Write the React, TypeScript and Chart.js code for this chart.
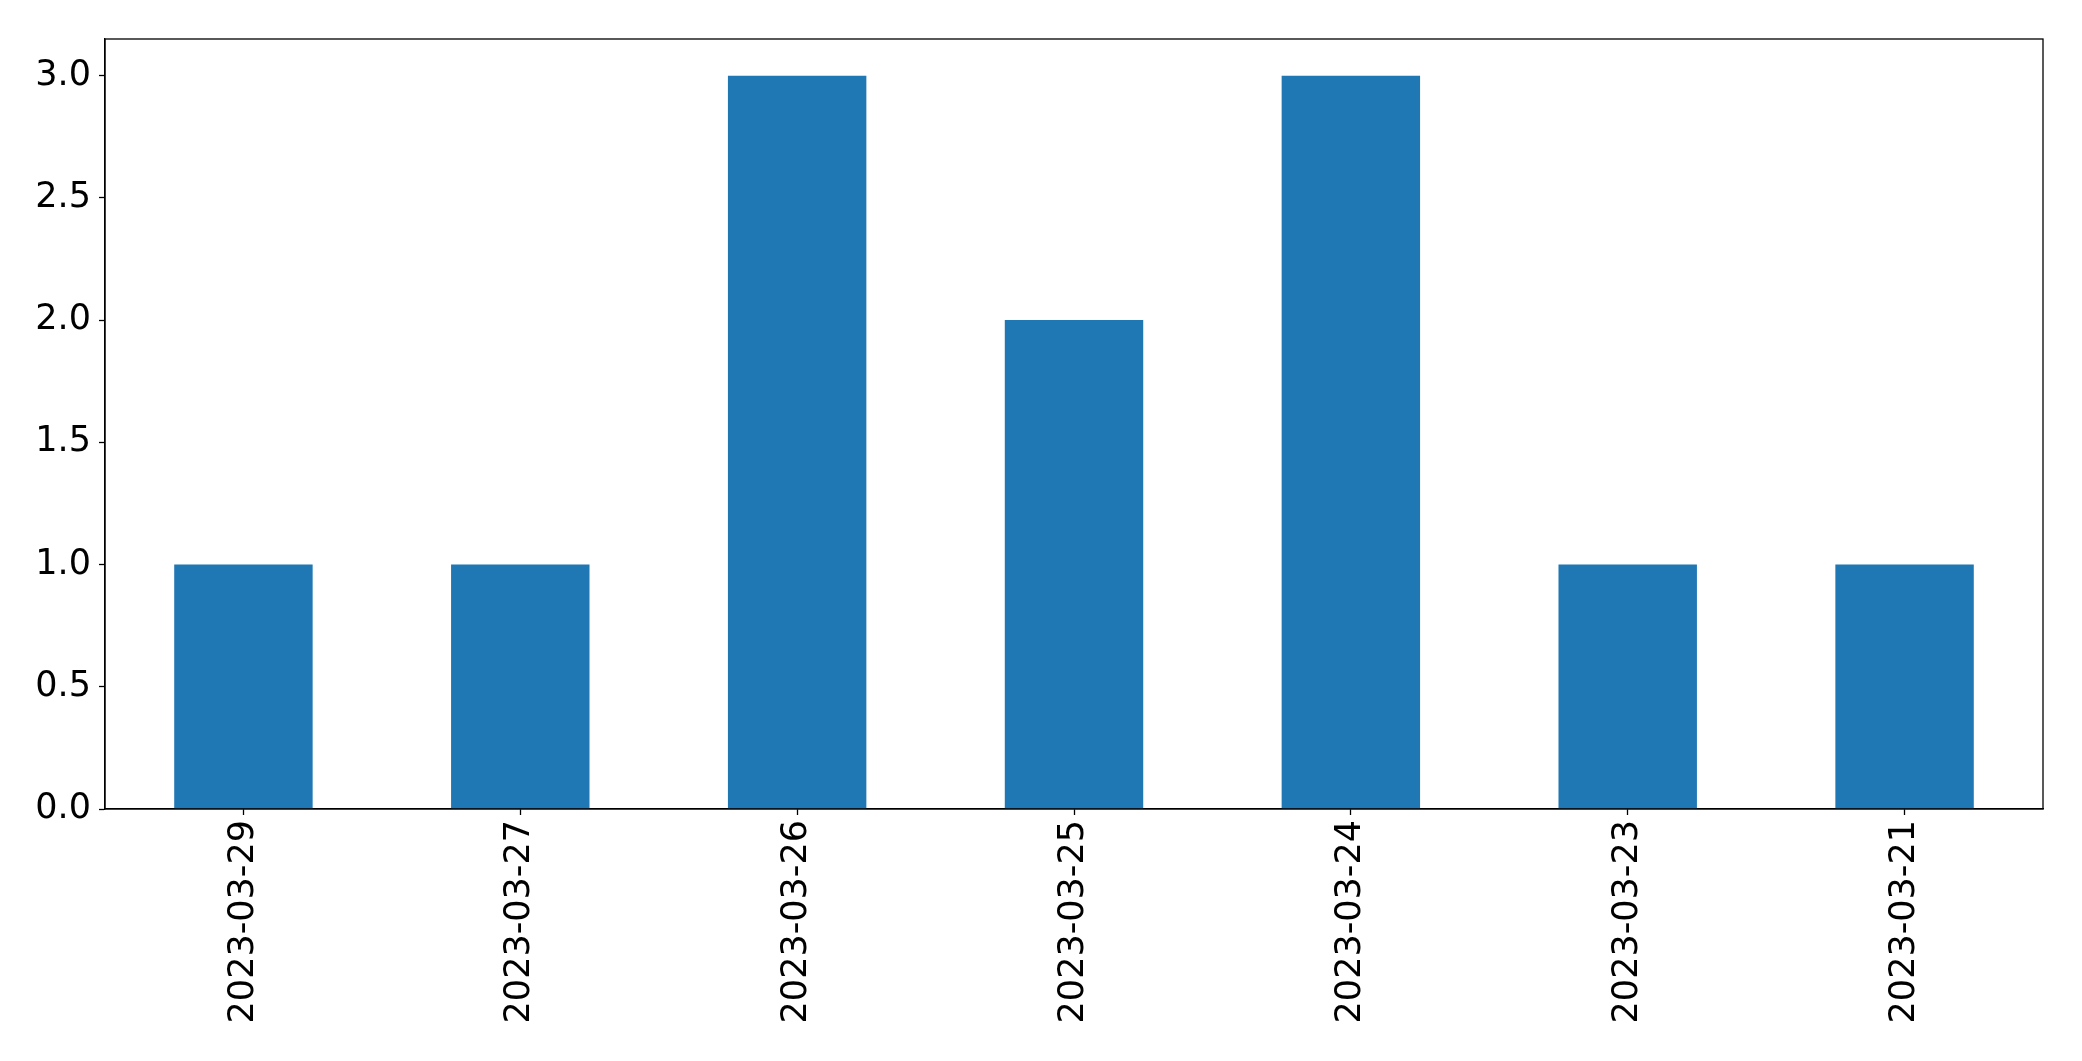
import React, { useEffect, useRef } from "react";
import { Chart, registerables } from "chart.js";

Chart.register(...registerables);

const categories = ["2023-03-29", "2023-03-27", "2023-03-26", "2023-03-25", "2023-03-24", "2023-03-23", "2023-03-21"];
const counts = [1, 1, 3, 2, 3, 1, 1];
const yTicks = [0, 0.5, 1, 1.5, 2, 2.5, 3];
const yMax = 3.15;

const framePlugin = {
  id: "frame",
  afterDraw(chart: any) {
    const { ctx, chartArea } = chart;
    ctx.save();
    ctx.strokeStyle = "#000";
    ctx.lineWidth = 1.3;
    ctx.strokeRect(chartArea.left, chartArea.top, chartArea.right - chartArea.left, chartArea.bottom - chartArea.top);
    ctx.restore();
  },
};

export default function App() {
  const ref = useRef<HTMLCanvasElement | null>(null);
  useEffect(() => {
    document.body.style.margin = "0";
    const font = { family: "'DejaVu Sans', sans-serif", size: 35 };
    const chart = new Chart(ref.current!, {
      type: "bar",
      data: {
        labels: categories,
        datasets: [
          {
            data: counts,
            backgroundColor: "#1f77b4",
            barPercentage: 0.5,
            categoryPercentage: 1,
          },
        ],
      },
      options: {
        animation: false,
        responsive: false,
        layout: { padding: { top: 39, right: 39, left: 0, bottom: 0 } },
        plugins: { legend: { display: false }, tooltip: { enabled: false } },
        scales: {
          x: {
            offset: true,
            grid: { offset: false, drawOnChartArea: false, drawTicks: true, tickLength: 6, tickColor: "#000", tickWidth: 1.3 },
            border: { display: true, color: "#000", width: 1.3 },
            ticks: { color: "#000", font, maxRotation: 90, minRotation: 90, padding: 5, autoSkip: false },
            afterFit: (s: any) => {
              s.height = 252;
            },
          },
          y: {
            min: 0,
            max: yMax,
            grid: { drawOnChartArea: false, drawTicks: true, tickLength: 6, tickColor: "#000", tickWidth: 1.3 },
            border: { display: true, color: "#000", width: 1.3 },
            ticks: {
              color: "#000",
              font,
              padding: 8,
              callback: (v: any) => Number(v).toFixed(1),
            },
            afterBuildTicks: (s: any) => {
              s.ticks = yTicks.map((v) => ({ value: v }));
            },
            afterFit: (s: any) => {
              s.width = 105;
            },
          },
        },
      },
      plugins: [framePlugin],
    });
    return () => chart.destroy();
  }, []);
  return (
    <div style={{ width: 2082, height: 1061 }}>
      <canvas ref={ref} width={2082} height={1061} style={{ display: "block" }} />
    </div>
  );
}
